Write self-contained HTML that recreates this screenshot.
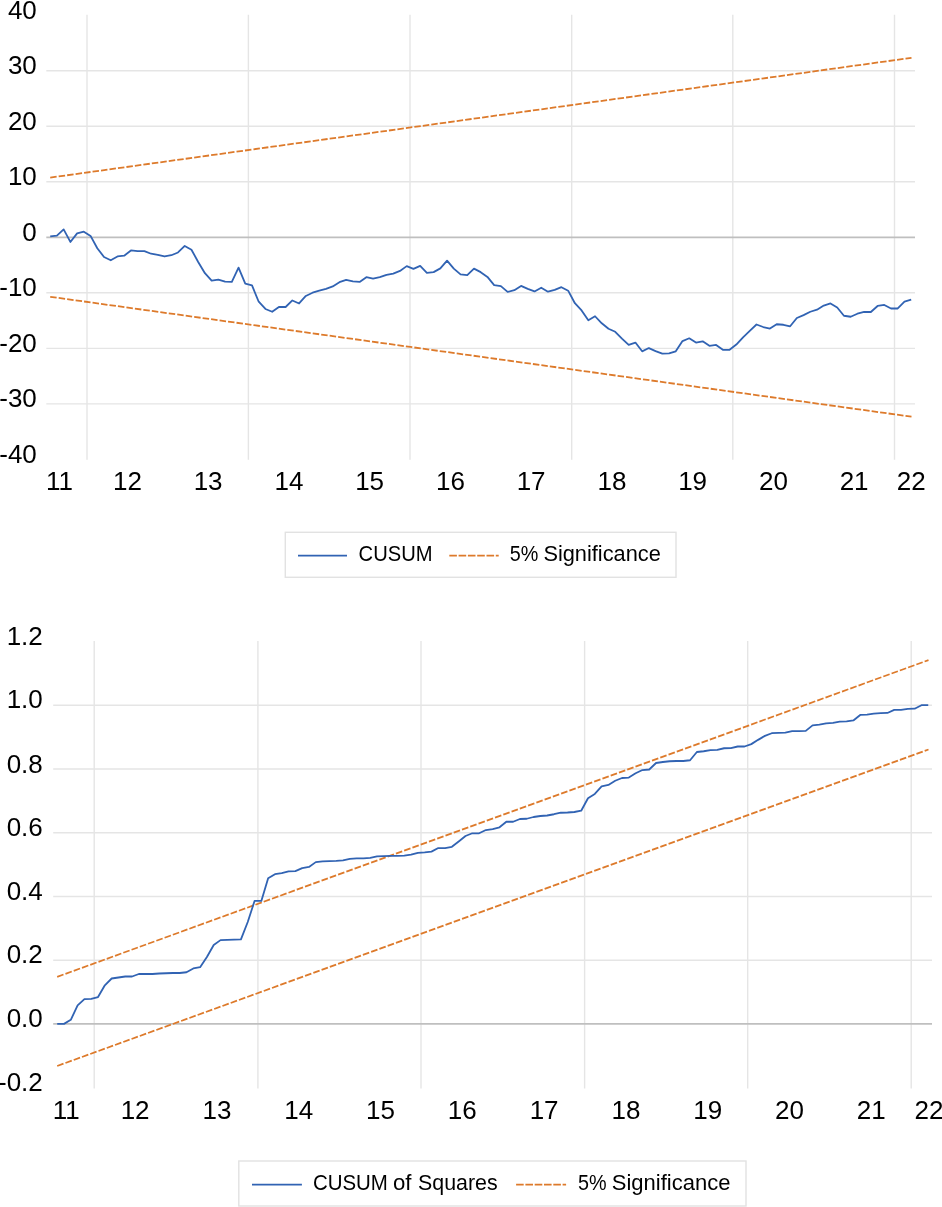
<!DOCTYPE html>
<html><head><meta charset="utf-8"><title>CUSUM</title>
<style>
html,body{margin:0;padding:0;background:#fff;}
svg{display:block;}
text{font-family:"Liberation Sans",sans-serif;fill:#000;}
.ax{font-size:26.0px;}
.lg{font-size:22.5px;}
.g{stroke:#E5E5E5;stroke-width:1.4;fill:none;}
.z{stroke:#BFBFBF;stroke-width:1.75;fill:none;}
.b{stroke:#3163B3;stroke-width:1.8;fill:none;stroke-linejoin:round;stroke-linecap:butt;}
.o{stroke:#DD7A2B;stroke-width:1.8;fill:none;stroke-dasharray:7.6 1.7;}
.o1{stroke-dasharray:6.5 2.05;}
.o2{stroke-dasharray:6.7 2.09;}
.lb{fill:#fff;stroke:#E2E2E2;stroke-width:1.4;}
</style></head><body>
<svg width="942" height="1207" viewBox="0 0 942 1207">
<rect width="942" height="1207" fill="#fff"/>
<line class="g" x1="87.00" y1="14.80" x2="87.00" y2="459.70"/>
<line class="g" x1="248.40" y1="14.80" x2="248.40" y2="459.70"/>
<line class="g" x1="410.00" y1="14.80" x2="410.00" y2="459.70"/>
<line class="g" x1="571.70" y1="14.80" x2="571.70" y2="459.70"/>
<line class="g" x1="732.80" y1="14.80" x2="732.80" y2="459.70"/>
<line class="g" x1="894.50" y1="14.80" x2="894.50" y2="459.70"/>
<line class="g" x1="46.30" y1="70.74" x2="915.00" y2="70.74"/>
<line class="g" x1="46.30" y1="126.26" x2="915.00" y2="126.26"/>
<line class="g" x1="46.30" y1="181.78" x2="915.00" y2="181.78"/>
<line class="g" x1="46.30" y1="292.82" x2="915.00" y2="292.82"/>
<line class="g" x1="46.30" y1="348.34" x2="915.00" y2="348.34"/>
<line class="g" x1="46.30" y1="403.86" x2="915.00" y2="403.86"/>
<line class="z" x1="46.30" y1="237.30" x2="915.00" y2="237.30"/>
<text class="ax" text-anchor="end" x="36.80" y="18.72">40</text>
<text class="ax" text-anchor="end" x="36.80" y="74.24">30</text>
<text class="ax" text-anchor="end" x="36.80" y="129.76">20</text>
<text class="ax" text-anchor="end" x="36.80" y="185.28">10</text>
<text class="ax" text-anchor="end" x="36.80" y="240.80">0</text>
<text class="ax" text-anchor="end" x="36.80" y="296.32">-10</text>
<text class="ax" text-anchor="end" x="36.80" y="351.84">-20</text>
<text class="ax" text-anchor="end" x="36.80" y="407.36">-30</text>
<text class="ax" text-anchor="end" x="36.80" y="462.88">-40</text>
<text class="ax" text-anchor="middle" x="59.40" y="489.50">11</text>
<text class="ax" text-anchor="middle" x="127.40" y="489.50">12</text>
<text class="ax" text-anchor="middle" x="208.10" y="489.50">13</text>
<text class="ax" text-anchor="middle" x="288.90" y="489.50">14</text>
<text class="ax" text-anchor="middle" x="369.60" y="489.50">15</text>
<text class="ax" text-anchor="middle" x="450.40" y="489.50">16</text>
<text class="ax" text-anchor="middle" x="531.10" y="489.50">17</text>
<text class="ax" text-anchor="middle" x="611.90" y="489.50">18</text>
<text class="ax" text-anchor="middle" x="692.60" y="489.50">19</text>
<text class="ax" text-anchor="middle" x="773.40" y="489.50">20</text>
<text class="ax" text-anchor="middle" x="854.10" y="489.50">21</text>
<text class="ax" text-anchor="middle" x="911.30" y="489.50">22</text>
<line class="o o1" x1="50.20" y1="177.60" x2="911.50" y2="57.80"/>
<line class="o o1" x1="50.20" y1="296.80" x2="911.50" y2="416.70"/>
<polyline class="b" points="50.20,236.43 56.93,235.68 63.65,229.42 70.38,241.94 77.11,233.43 83.83,231.67 90.56,235.93 97.29,248.21 104.01,256.98 110.74,260.23 117.47,256.48 124.19,255.72 130.92,250.46 137.65,251.21 144.37,251.21 151.10,253.72 157.83,254.97 164.55,256.48 171.28,255.22 178.01,252.47 184.73,245.95 191.46,249.71 198.19,261.96 204.91,273.21 211.64,280.72 218.37,279.60 225.09,281.60 231.82,281.85 238.54,267.64 245.27,283.68 252.00,285.43 258.72,301.72 265.45,308.98 272.18,311.74 278.90,306.98 285.63,306.98 292.36,300.46 299.08,303.47 305.81,295.95 312.54,292.70 319.26,290.69 325.99,288.94 332.72,286.43 339.44,282.17 346.17,279.92 352.90,281.42 359.62,281.92 366.35,277.16 373.08,278.67 379.80,277.16 386.53,274.91 393.26,273.66 399.98,270.90 406.71,266.14 413.44,268.90 420.16,265.89 426.89,272.90 433.62,272.15 440.34,268.39 447.07,260.63 453.80,268.65 460.52,274.41 467.25,275.16 473.98,268.65 480.70,272.15 487.43,276.91 494.16,285.18 500.88,286.18 507.61,291.94 514.34,290.19 521.06,285.93 527.79,288.94 534.52,291.44 541.24,287.69 547.97,291.69 554.70,289.94 561.42,287.18 568.15,290.69 574.87,303.22 581.60,310.48 588.33,320.25 595.05,316.25 601.78,323.26 608.51,328.77 615.23,331.78 621.96,338.54 628.69,344.81 635.41,342.55 642.14,351.32 648.87,348.06 655.59,351.07 662.32,353.58 669.05,353.32 675.77,351.32 682.50,341.05 689.23,338.29 695.95,342.55 702.68,341.30 709.41,345.81 716.13,344.93 722.86,349.82 729.59,349.82 736.31,344.56 743.04,337.29 749.77,330.78 756.49,324.51 763.22,327.02 769.95,328.52 776.67,324.26 783.40,324.76 790.13,326.27 796.85,318.00 803.58,315.12 810.31,311.74 817.03,309.73 823.76,305.60 830.49,303.47 837.21,307.48 843.94,315.75 850.67,316.75 857.39,313.74 864.12,311.99 870.85,311.99 877.57,305.97 884.30,304.97 891.03,308.48 897.75,308.48 904.48,301.72 911.20,299.71"/>
<rect class="lb" x="285.3" y="532.3" width="390.7" height="45"/>
<line class="b" x1="298" y1="555.6" x2="347" y2="555.6"/>
<text class="lg" y="561"><tspan x="358.6" textLength="74" lengthAdjust="spacingAndGlyphs">CUSUM</tspan></text>
<line class="o" x1="449.3" y1="555.6" x2="498.7" y2="555.6"/>
<text class="lg" y="561"><tspan x="509.7" textLength="28.6" lengthAdjust="spacingAndGlyphs">5%</tspan> <tspan x="543.4" textLength="117.4" lengthAdjust="spacingAndGlyphs">Significance</tspan></text>
<line class="g" x1="94.20" y1="641.00" x2="94.20" y2="1088.50"/>
<line class="g" x1="257.90" y1="641.00" x2="257.90" y2="1088.50"/>
<line class="g" x1="421.00" y1="641.00" x2="421.00" y2="1088.50"/>
<line class="g" x1="584.60" y1="641.00" x2="584.60" y2="1088.50"/>
<line class="g" x1="747.70" y1="641.00" x2="747.70" y2="1088.50"/>
<line class="g" x1="911.20" y1="641.00" x2="911.20" y2="1088.50"/>
<line class="g" x1="53.20" y1="705.30" x2="932.00" y2="705.30"/>
<line class="g" x1="53.20" y1="769.02" x2="932.00" y2="769.02"/>
<line class="g" x1="53.20" y1="832.74" x2="932.00" y2="832.74"/>
<line class="g" x1="53.20" y1="896.46" x2="932.00" y2="896.46"/>
<line class="g" x1="53.20" y1="960.18" x2="932.00" y2="960.18"/>
<line class="z" x1="53.20" y1="1023.90" x2="932.00" y2="1023.90"/>
<text class="ax" text-anchor="end" x="42.80" y="645.08">1.2</text>
<text class="ax" text-anchor="end" x="42.80" y="707.80">1.0</text>
<text class="ax" text-anchor="end" x="42.80" y="772.52">0.8</text>
<text class="ax" text-anchor="end" x="42.80" y="836.24">0.6</text>
<text class="ax" text-anchor="end" x="42.80" y="899.96">0.4</text>
<text class="ax" text-anchor="end" x="42.80" y="962.68">0.2</text>
<text class="ax" text-anchor="end" x="42.80" y="1027.40">0.0</text>
<text class="ax" text-anchor="end" x="42.80" y="1091.12">-0.2</text>
<text class="ax" text-anchor="middle" x="66.30" y="1119.00">11</text>
<text class="ax" text-anchor="middle" x="135.10" y="1119.00">12</text>
<text class="ax" text-anchor="middle" x="216.90" y="1119.00">13</text>
<text class="ax" text-anchor="middle" x="298.70" y="1119.00">14</text>
<text class="ax" text-anchor="middle" x="380.50" y="1119.00">15</text>
<text class="ax" text-anchor="middle" x="462.30" y="1119.00">16</text>
<text class="ax" text-anchor="middle" x="544.10" y="1119.00">17</text>
<text class="ax" text-anchor="middle" x="625.90" y="1119.00">18</text>
<text class="ax" text-anchor="middle" x="707.70" y="1119.00">19</text>
<text class="ax" text-anchor="middle" x="789.50" y="1119.00">20</text>
<text class="ax" text-anchor="middle" x="871.30" y="1119.00">21</text>
<text class="ax" text-anchor="middle" x="929.00" y="1119.00">22</text>
<line class="o o2" x1="57.20" y1="976.80" x2="928.50" y2="660.10"/>
<line class="o o2" x1="57.20" y1="1066.00" x2="928.50" y2="749.50"/>
<polyline class="b" points="57.20,1023.85 64.00,1023.85 70.81,1019.84 77.62,1005.31 84.42,999.04 91.22,998.79 98.03,997.04 104.84,985.27 111.64,978.50 118.44,977.50 125.25,976.50 132.06,976.50 138.86,973.99 145.67,973.99 152.47,973.99 159.27,973.49 166.08,973.24 172.88,972.99 179.69,972.99 186.50,972.24 193.30,968.48 200.11,967.23 206.91,957.02 213.71,944.99 220.52,940.11 227.32,939.86 234.13,939.61 240.94,939.30 247.74,922.01 254.55,900.96 261.35,900.96 268.15,878.17 274.96,874.16 281.76,873.15 288.57,871.40 295.38,871.15 302.18,868.14 308.99,866.89 315.79,862.13 322.59,861.38 329.40,861.13 336.20,860.88 343.01,860.38 349.81,858.87 356.62,858.37 363.42,858.37 370.23,857.87 377.03,856.37 383.84,856.12 390.64,855.87 397.45,855.87 404.25,855.72 411.06,854.60 417.86,852.84 424.67,852.34 431.47,851.59 438.28,848.06 445.08,848.06 451.89,846.81 458.69,841.55 465.50,836.04 472.30,833.28 479.11,833.28 485.91,830.03 492.72,829.02 499.52,827.27 506.33,821.76 513.13,821.76 519.94,819.00 526.75,818.75 533.55,817.00 540.36,816.00 547.16,815.49 553.97,814.24 560.77,812.74 567.58,812.49 574.38,811.99 581.19,810.73 587.99,798.21 594.80,793.95 601.60,786.37 608.40,784.99 615.21,780.73 622.01,777.98 628.82,777.60 635.62,773.28 642.43,770.03 649.24,769.52 656.04,763.01 662.85,762.01 669.65,761.26 676.46,761.01 683.26,761.01 690.07,760.25 696.87,751.99 703.68,751.24 710.48,750.13 717.28,749.88 724.09,748.25 730.89,748.13 737.70,746.50 744.50,746.50 751.31,744.12 758.12,739.86 764.92,735.85 771.73,733.22 778.53,732.97 785.34,732.59 792.14,731.09 798.95,731.09 805.75,730.84 812.56,725.33 819.36,724.70 826.16,723.45 832.97,722.82 839.77,721.72 846.58,721.46 853.38,720.46 860.19,714.95 867.00,714.70 873.80,713.70 880.61,713.20 887.41,712.95 894.22,709.94 901.02,709.94 907.83,708.94 914.63,708.69 921.44,705.18 928.24,705.18"/>
<rect class="lb" x="238.8" y="1161" width="507.2" height="45"/>
<line class="b" x1="252" y1="1184.6" x2="301.9" y2="1184.6"/>
<text class="lg" y="1190"><tspan x="312.9" textLength="75" lengthAdjust="spacingAndGlyphs">CUSUM</tspan> <tspan x="393" textLength="18.5" lengthAdjust="spacingAndGlyphs">of</tspan> <tspan x="418.1" textLength="79.6" lengthAdjust="spacingAndGlyphs">Squares</tspan></text>
<line class="o" x1="516.1" y1="1184.6" x2="566.1" y2="1184.6"/>
<text class="lg" y="1190"><tspan x="577.9" textLength="28.6" lengthAdjust="spacingAndGlyphs">5%</tspan> <tspan x="611.8" textLength="118.7" lengthAdjust="spacingAndGlyphs">Significance</tspan></text>
</svg></body></html>
